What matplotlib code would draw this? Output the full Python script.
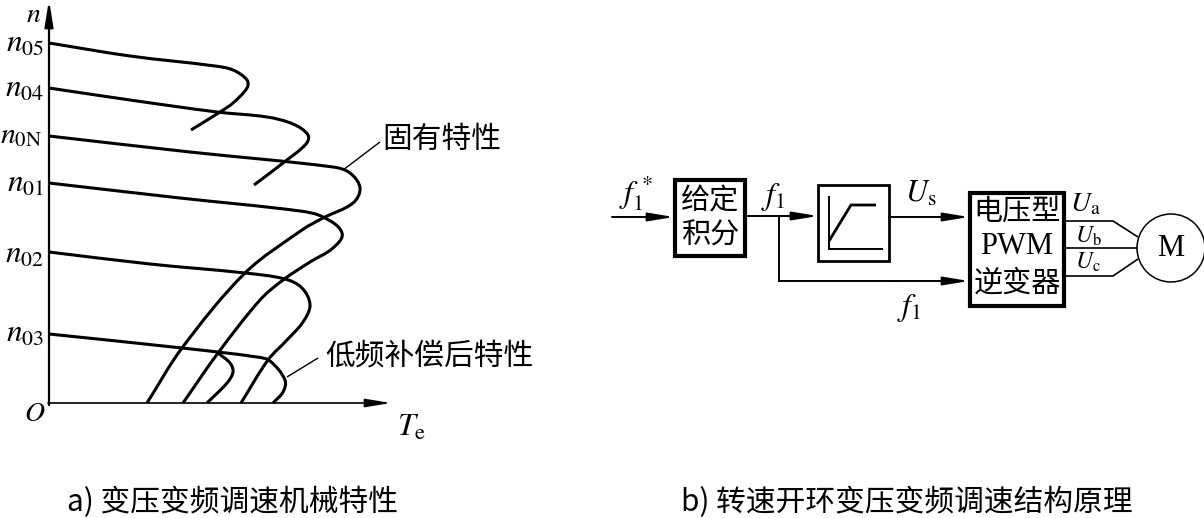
import numpy as np
import matplotlib
matplotlib.use('Agg')
import matplotlib.pyplot as plt
from matplotlib.path import Path
from matplotlib.patches import PathPatch, Rectangle, Circle

plt.rcParams['font.family'] = ['Noto Sans CJK SC', 'DejaVu Sans']
plt.rcParams['mathtext.fontset'] = 'stix'

# curves (pixel position: x, y)
curve_n05 = [(49, 43), (130, 56), (215, 66), (233, 70), (247, 80), (247, 88), (233, 103), (220, 112), (191, 130)]
curve_n04 = [(49, 88), (130, 100), (217, 112), (267, 117), (293, 124), (308, 135), (306, 144), (283, 163), (254, 185)]
curve_n0N = [(49, 136), (190, 152), (333, 167), (350, 173), (360, 188), (353, 203), (323, 218), (302, 230),
             (245, 273), (182, 348), (147, 403)]
curve_n01 = [(49, 183), (180, 198), (300, 211), (323, 217), (342, 233), (333, 248), (310, 262), (283, 280),
             (260, 300), (218, 353), (183, 403)]
curve_n02 = [(49, 252), (150, 264), (245, 273), (285, 279), (302, 288), (310, 305), (303, 322), (287, 340),
             (268, 360), (241, 403)]
curve_n03 = [(49, 334), (182, 348), (257, 357), (270, 361), (285, 380), (283, 392), (273, 403)]
curve_n03_inner = [(218, 353), (230, 363), (233, 372), (227, 383), (207, 403)]

curves = [curve_n05, curve_n04, curve_n0N, curve_n01, curve_n02, curve_n03, curve_n03_inner]

n_labels = [r'$n_{05}$', r'$n_{04}$', r'$n_{0\mathrm{N}}$', r'$n_{01}$', r'$n_{02}$', r'$n_{03}$']
n_label_y = [43, 88, 135, 183, 254, 333]
n_label_x = [44, 44, 42, 44, 44, 44]
n_label_size = [22.5, 22.5, 21.5, 22.5, 22.5, 22.5]


def smooth_path(pts):
    # spline through the points, tangent along the chord, handles follow segment length
    pts = np.array(pts, dtype=float)
    tang = np.zeros_like(pts)
    tang[0] = pts[1] - pts[0]
    tang[-1] = pts[-1] - pts[-2]
    tang[1:-1] = pts[2:] - pts[:-2]
    tang = tang / np.hypot(tang[:, 0], tang[:, 1])[:, None]
    verts = [pts[0]]
    codes = [Path.MOVETO]
    for i in range(len(pts) - 1):
        d = np.hypot(*(pts[i + 1] - pts[i])) / 3
        verts += [pts[i] + tang[i] * d, pts[i + 1] - tang[i + 1] * d, pts[i + 1]]
        codes += [Path.CURVE4] * 3
    return Path(verts, codes)


def arrow(ax, start, end, lw=1.4):
    ax.annotate('', xy=end, xytext=start,
                arrowprops=dict(arrowstyle='-|>,head_length=1.1,head_width=0.18', color='black',
                                lw=lw, shrinkA=0, shrinkB=0, mutation_scale=14))


def line(ax, pts, lw=1.4):
    xs, ys = zip(*pts)
    ax.plot(xs, ys, color='black', lw=lw, solid_capstyle='butt', solid_joinstyle='miter')


def box(ax, x0, y0, x1, y1, lw):
    ax.add_patch(Rectangle((x0, y0), x1 - x0, y1 - y0, fill=False, ec='black', lw=lw, joinstyle='miter'))


fig = plt.figure(figsize=(12.04, 5.18), dpi=100)
ax = fig.add_axes([0, 0, 1, 1])
ax.set_xlim(0, 1204)
ax.set_ylim(518, 0)
ax.axis('off')

# a) 机械特性
for c in curves:
    ax.add_patch(PathPatch(smooth_path(c), fill=False, ec='black', lw=2.2, capstyle='butt'))

arrow(ax, (49, 405), (49, 0), lw=1.6)
arrow(ax, (48, 403), (431 - 40, 403), lw=1.2)
line(ax, [(343, 170), (380, 142)], lw=1.0)
line(ax, [(287, 377), (318, 358)], lw=1.0)

for lab, lx, ly, sz in zip(n_labels, n_label_x, n_label_y, n_label_size):
    ax.text(lx, ly, lab, fontsize=sz, ha='right', va='center')
ax.text(34, 14, r'$n$', fontsize=20, ha='center', va='center')
ax.text(35, 413, r'$O$', fontsize=20, ha='center', va='center')
ax.text(412, 427, r'$T_{\mathrm{e}}$', fontsize=23, ha='center', va='center')
ax.text(382, 139, '固有特性', fontsize=21.4, ha='left', va='center')
ax.text(325, 356, '低频补偿后特性', fontsize=21.4, ha='left', va='center')
ax.text(67, 502, 'a) 变压变频调速机械特性', fontsize=21.4, ha='left', va='center')

# b) 结构原理
box(ax, 675, 180, 745, 256, 3)
box(ax, 818, 185, 889, 261, 2)
box(ax, 970, 193, 1064, 306, 3)
ax.add_patch(Circle((1171, 248), 34, fill=False, ec='black', lw=1.1))

arrow(ax, (612, 217), (674, 217))
arrow(ax, (745, 216), (818, 216))
arrow(ax, (889, 217), (969, 217))
line(ax, [(779, 216), (779, 281), (900, 281)])
arrow(ax, (890, 281), (969, 281))

line(ax, [(829, 196), (829, 249), (883, 249)], lw=1.4)
line(ax, [(829, 241), (851, 205), (876, 205)], lw=2)

line(ax, [(1064, 221), (1113, 221), (1138, 237)], lw=1.2)
line(ax, [(1064, 248), (1137, 248)], lw=1.2)
line(ax, [(1064, 276), (1113, 276), (1138, 259)], lw=1.2)

ax.text(636, 193, r'$f_{1}^{\,*}$', fontsize=23, ha='center', va='center')
ax.text(773, 197, r'$f_{1}$', fontsize=23, ha='center', va='center')
ax.text(909, 308, r'$f_{1}$', fontsize=23, ha='center', va='center')
ax.text(921, 193, r'$U_{\mathrm{s}}$', fontsize=22, ha='center', va='center')
ax.text(1085, 203, r'$U_{\mathrm{a}}$', fontsize=20, ha='center', va='center')
ax.text(1088, 236, r'$U_{\mathrm{b}}$', fontsize=17, ha='center', va='center')
ax.text(1088, 262, r'$U_{\mathrm{c}}$', fontsize=17, ha='center', va='center')

ax.text(710, 201, '给定', fontsize=21, ha='center', va='center')
ax.text(710, 236, '积分', fontsize=21, ha='center', va='center')
ax.text(1017, 212, '电压型', fontsize=21, ha='center', va='center')
ax.text(1017, 247, 'PWM', fontsize=22, ha='center', va='center', family='Liberation Serif')
ax.text(1017, 284, '逆变器', fontsize=21, ha='center', va='center')
ax.text(1171, 248, 'M', fontsize=22, ha='center', va='center', family='Liberation Serif')
ax.text(681, 502, 'b) 转速开环变压变频调速结构原理', fontsize=21.4, ha='left', va='center')

fig.savefig('out.png', dpi=100)
